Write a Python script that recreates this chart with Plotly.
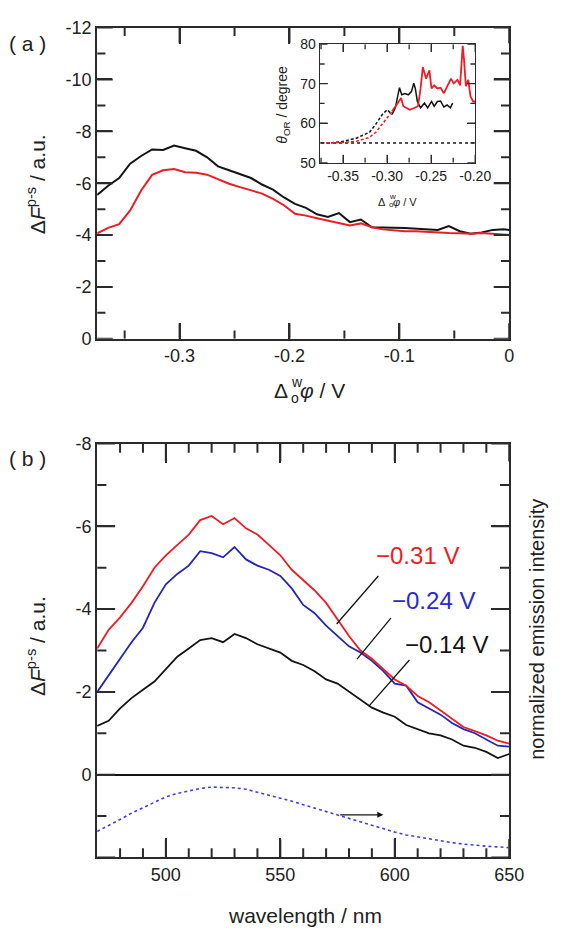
import plotly.graph_objects as go

# ---------------- data: panel (a) ----------------
pot_a = [-0.375, -0.365, -0.355, -0.345, -0.335, -0.325, -0.315, -0.305, -0.295, -0.285,
         -0.275, -0.265, -0.255, -0.245, -0.235, -0.225, -0.215, -0.205, -0.195, -0.185,
         -0.175, -0.165, -0.155, -0.145, -0.135, -0.125, -0.115, -0.105, -0.095, -0.085,
         -0.075, -0.065, -0.055, -0.045, -0.035, -0.025, -0.015, -0.005, 0.0]
dF_black_a = [-5.55, -5.9, -6.2, -6.75, -7.05, -7.3, -7.28, -7.45, -7.35, -7.25,
              -7.0, -6.65, -6.5, -6.35, -6.2, -5.95, -5.75, -5.45, -5.2, -5.05,
              -4.8, -4.7, -4.85, -4.5, -4.6, -4.3, -4.3, -4.28, -4.27, -4.25,
              -4.22, -4.2, -4.35, -4.15, -4.05, -4.1, -4.2, -4.22, -4.2]
dF_red_a = [-4.07, -4.28, -4.42, -4.95, -5.72, -6.32, -6.5, -6.55, -6.42, -6.4,
            -6.33, -6.15, -5.98, -5.85, -5.72, -5.6, -5.4, -5.15, -4.82, -4.75,
            -4.65, -4.55, -4.47, -4.37, -4.45, -4.3, -4.22, -4.18, -4.15, -4.15,
            -4.12, -4.1, -4.08, -4.07, -4.05, -4.08, -4.05, -4.02, -4.0]

# inset: orientation angle
ins_black_dash_x = [-0.375, -0.36, -0.35, -0.335, -0.32, -0.313, -0.3055, -0.300, -0.2944]
ins_black_dash_y = [55.0, 55.1, 55.4, 56.2, 57.7, 59.7, 62.2, 63.4, 62.2]
ins_black_x = [-0.2944, -0.2907, -0.2860, -0.2834, -0.2797, -0.2760, -0.2724, -0.2698, -0.2680,
               -0.2657, -0.2620, -0.2576, -0.2540, -0.2496, -0.2466, -0.2429, -0.2393,
               -0.2356, -0.2319, -0.2283, -0.2256]
ins_black_y = [62.2, 63.9, 69.0, 67.2, 67.5, 67.2, 68.0, 70.1, 68.8,
               65.5, 63.9, 65.1, 63.9, 65.5, 64.3, 65.5, 65.6,
               64.1, 64.6, 63.9, 65.1]
ins_red_dash_x = [-0.375, -0.35, -0.335, -0.3202, -0.3128, -0.3055, -0.300, -0.2944]
ins_red_dash_y = [55.0, 55.1, 55.4, 56.4, 57.7, 59.7, 61.4, 63.0]
ins_red_x = [-0.2944, -0.2907, -0.2870, -0.2841, -0.2816, -0.2779, -0.2742, -0.2687, -0.2650,
             -0.2620, -0.2595, -0.2558, -0.2521, -0.2496, -0.2466, -0.2429, -0.2393,
             -0.2356, -0.2319, -0.2275, -0.2245, -0.2201, -0.2172, -0.2142, -0.2128,
             -0.2106, -0.2079, -0.2054, -0.2024, -0.1995]
ins_red_y = [63.0, 64.3, 65.5, 66.4, 64.3, 63.9, 63.4, 63.9, 64.3,
             68.8, 74.2, 71.3, 73.4, 68.8, 69.6, 68.8, 69.0,
             67.6, 69.4, 71.3, 70.1, 71.0, 69.6, 79.6, 76.3,
             69.4, 71.0, 66.8, 65.5, 65.5]
ins_ref_x = [-0.375, -0.20]
ins_ref_y = [55.0, 55.0]

# ---------------- data: panel (b) ----------------
wl = [470, 475, 480, 485, 490, 495, 500, 505, 510, 515, 520, 525, 530, 535, 540, 545,
      550, 555, 560, 565, 570, 575, 580, 585, 590, 595, 600, 605, 610, 615, 620, 625,
      630, 635, 640, 645, 650]
dF_m031 = [-3.05, -3.5, -3.8, -4.15, -4.55, -5.0, -5.3, -5.55, -5.8, -6.15, -6.25, -6.05,
           -6.2, -5.95, -5.8, -5.55, -5.3, -4.95, -4.7, -4.45, -4.15, -3.75, -3.35, -3.0,
           -2.8, -2.55, -2.3, -2.15, -1.9, -1.75, -1.55, -1.35, -1.15, -1.05, -0.95, -0.82, -0.75]
dF_m024 = [-2.0, -2.4, -2.8, -3.2, -3.55, -4.15, -4.6, -4.85, -5.05, -5.4, -5.35, -5.25,
           -5.5, -5.2, -5.05, -4.95, -4.8, -4.5, -4.1, -3.9, -3.6, -3.35, -3.1, -2.95,
           -2.75, -2.5, -2.2, -2.15, -1.75, -1.6, -1.45, -1.25, -1.1, -1.0, -0.85, -0.7, -0.68]
dF_m014 = [-1.18, -1.3, -1.6, -1.85, -2.05, -2.25, -2.55, -2.85, -3.05, -3.25, -3.3, -3.2,
           -3.4, -3.3, -3.15, -3.05, -2.95, -2.75, -2.65, -2.5, -2.3, -2.2, -2.0, -1.8,
           -1.62, -1.5, -1.4, -1.2, -1.1, -1.0, -0.95, -0.85, -0.7, -0.65, -0.55, -0.4, -0.5]
emission = [0.37, 0.45, 0.54, 0.63, 0.71, 0.79, 0.86, 0.91, 0.95, 0.98, 1.0, 1.0, 0.99,
            0.97, 0.93, 0.89, 0.84, 0.8, 0.75, 0.7, 0.65, 0.61, 0.56, 0.5, 0.45, 0.4,
            0.36, 0.32, 0.29, 0.26, 0.23, 0.21, 0.19, 0.17, 0.16, 0.15, 0.14]

# tick labels / tick positions
a_xtick_vals = [-0.3, -0.2, -0.1, 0.0]
a_xtick_text = ["-0.3", "-0.2", "-0.1", "0"]
a_xminor_vals = [-0.35, -0.25, -0.15, -0.05]
a_ytick_vals = [-12, -10, -8, -6, -4, -2, 0]
a_ytick_text = ["-12", "-10", "-8", "-6", "-4", "-2", "0"]
a_yminor_vals = [-11, -9, -7, -5, -3, -1]
ins_xtick_vals = [-0.35, -0.30, -0.25, -0.20]
ins_xtick_text = ["-0.35", "-0.30", "-0.25", "-0.20"]
ins_xminor_vals = [-0.375, -0.325, -0.275, -0.225]
ins_ytick_vals = [50, 60, 70, 80]
ins_ytick_text = ["50", "60", "70", "80"]
ins_yminor_vals = [55, 65, 75]
b_xtick_vals = [500, 550, 600, 650]
b_xtick_text = ["500", "550", "600", "650"]
b_xminor_vals = [480, 490, 510, 520, 530, 540, 560, 570, 580, 590, 610, 620, 630, 640]
b_ytick_vals = [-8, -6, -4, -2, 0]
b_ytick_text = ["-8", "-6", "-4", "-2", "0"]
b_ymajor_marks = [-8, -6, -4, -2, 0, 2]
b_yminor_vals = [-7, -5, -3, -1, 1]

# ---------------- styling ----------------
W, H = 568, 934
FONT = "Liberation Sans, Arial, sans-serif"
RED = "#ee1c25"
BLUE = "#2525b5"
BLACK = "#141414"
AX = "#2b2b2b"


def px(x):
    return x / W


def py(y):
    return 1 - y / H


fig = go.Figure()

# panel (a)
fig.add_trace(go.Scatter(x=pot_a, y=dF_black_a, mode="lines", line=dict(color=BLACK, width=2),
                         xaxis="x", yaxis="y", showlegend=False))
fig.add_trace(go.Scatter(x=pot_a, y=dF_red_a, mode="lines", line=dict(color=RED, width=2),
                         xaxis="x", yaxis="y", showlegend=False))
# inset
fig.add_trace(go.Scatter(x=ins_ref_x, y=ins_ref_y, mode="lines", line=dict(color=BLACK, width=1.5, dash="dot"),
                         xaxis="x2", yaxis="y2", showlegend=False))
fig.add_trace(go.Scatter(x=ins_black_dash_x, y=ins_black_dash_y, mode="lines",
                         line=dict(color=BLACK, width=1.5, dash="3px,2px"),
                         xaxis="x2", yaxis="y2", showlegend=False))
fig.add_trace(go.Scatter(x=ins_red_dash_x, y=ins_red_dash_y, mode="lines",
                         line=dict(color=RED, width=1.5, dash="3px,2px"),
                         xaxis="x2", yaxis="y2", showlegend=False))
fig.add_trace(go.Scatter(x=ins_black_x, y=ins_black_y, mode="lines", line=dict(color=BLACK, width=1.5),
                         xaxis="x2", yaxis="y2", showlegend=False))
fig.add_trace(go.Scatter(x=ins_red_x, y=ins_red_y, mode="lines", line=dict(color=RED, width=1.8),
                         xaxis="x2", yaxis="y2", showlegend=False))
# panel (b)
fig.add_trace(go.Scatter(x=wl, y=dF_m014, mode="lines", line=dict(color=BLACK, width=1.8),
                         xaxis="x3", yaxis="y3", showlegend=False))
fig.add_trace(go.Scatter(x=wl, y=dF_m024, mode="lines", line=dict(color=BLUE, width=1.8),
                         xaxis="x3", yaxis="y3", showlegend=False))
fig.add_trace(go.Scatter(x=wl, y=dF_m031, mode="lines", line=dict(color=RED, width=1.8),
                         xaxis="x3", yaxis="y3", showlegend=False))
# emission spectrum on its own (hidden) right-hand scale
fig.add_trace(go.Scatter(x=wl, y=emission, mode="lines", line=dict(color="#4040d8", width=1.6, dash="dot"),
                         xaxis="x3", yaxis="y4", showlegend=False))


def axis(domain, rng, tv, tt, anchor, size=18, lw=2, ln=16):
    return dict(domain=domain, range=rng, anchor=anchor, tickmode="array", tickvals=tv, ticktext=tt,
                ticks="inside", ticklen=ln, tickwidth=lw, tickcolor=AX,
                showline=True, linecolor=AX, linewidth=lw, mirror="ticks",
                showgrid=False, zeroline=False,
                tickfont=dict(family=FONT, size=size, color="#222"))


# plot-area geometry in pixels (left, top, right, bottom)
A_BOX = (100, 18, 524, 336)
I_BOX = (329, 35, 489, 156)
B_BOX = (100, 443, 524, 866)
A_XR, A_YR = [-0.375, 0.0], [0, -12]
I_XR, I_YR = [-0.3765, -0.20], [50, 80]
B_XR, B_YR = [470, 650], [2, -8]


def xdom(b):
    return [px(b[0]), px(b[2])]


def ydom(b):
    return [py(b[3]), py(b[1])]


yb3 = axis(ydom(B_BOX), B_YR, b_ytick_vals, b_ytick_text, "x3", ln=18)
yb3.update(zeroline=True, zerolinecolor=BLACK, zerolinewidth=1.6)

fig.update_layout(
    width=W, height=H, margin=dict(l=0, r=0, t=0, b=0),
    paper_bgcolor="white", plot_bgcolor="rgba(0,0,0,0)",
    font=dict(family=FONT, color="#222"),
    xaxis=axis(xdom(A_BOX), A_XR, a_xtick_vals, a_xtick_text, "y"),
    yaxis=axis(ydom(A_BOX), A_YR, a_ytick_vals, a_ytick_text, "x", ln=15),
    xaxis2=axis(xdom(I_BOX), I_XR, ins_xtick_vals, ins_xtick_text, "y2", size=14, lw=1.3, ln=8),
    yaxis2=axis(ydom(I_BOX), I_YR, ins_ytick_vals, ins_ytick_text, "x2", size=14, lw=1.3, ln=8),
    xaxis3=axis(xdom(B_BOX), B_XR, b_xtick_vals, b_xtick_text, "y3", ln=19),
    yaxis3=yb3,
    yaxis4=dict(domain=ydom(B_BOX), range=[0, 10 / 1.7], anchor="x3", side="right",
                showticklabels=False, ticks="", showline=False, showgrid=False, zeroline=False),
)


# inward tick marks on all four sides, drawn as line traces in each axis' own data units
def tick_trace(xa, ya, box, rx, ry, xvals, yvals, ln, lw):
    xs, ys = [], []
    dy = (ry[1] - ry[0]) * ln / (box[3] - box[1])
    dx = (rx[1] - rx[0]) * ln / (box[2] - box[0])
    for v in xvals:
        xs += [v, v, None, v, v, None]
        ys += [ry[0], ry[0] + dy, None, ry[1], ry[1] - dy, None]
    for v in yvals:
        xs += [rx[0], rx[0] + dx, None, rx[1], rx[1] - dx, None]
        ys += [v, v, None, v, v, None]
    fig.add_trace(go.Scatter(x=xs, y=ys, mode="lines", line=dict(color=AX, width=lw),
                             xaxis=xa, yaxis=ya, showlegend=False, hoverinfo="skip",
                             connectgaps=False, cliponaxis=False))


tick_trace("x", "y", A_BOX, A_XR, A_YR, a_xtick_vals, a_ytick_vals, 16, 2)
tick_trace("x", "y", A_BOX, A_XR, A_YR, a_xminor_vals, a_yminor_vals, 8.5, 2)
tick_trace("x2", "y2", I_BOX, I_XR, I_YR, ins_xtick_vals, ins_ytick_vals, 8, 1.3)
tick_trace("x2", "y2", I_BOX, I_XR, I_YR, ins_xminor_vals, ins_yminor_vals, 5, 1.3)
tick_trace("x3", "y3", B_BOX, B_XR, B_YR, b_xtick_vals, b_ymajor_marks, 18.5, 2)
tick_trace("x3", "y3", B_BOX, B_XR, B_YR, b_xminor_vals, b_yminor_vals, 9.5, 2)

ann = []


def text(x, y, s, size, color="#222", angle=0, xanchor="center", yanchor="middle"):
    ann.append(dict(x=px(x), y=py(y), xref="paper", yref="paper", text=s, showarrow=False,
                    textangle=angle, xanchor=xanchor, yanchor=yanchor,
                    font=dict(family=FONT, size=size, color=color)))


text(28, 34, "( a )", 21)
text(28, 458, "( b )", 21)
text(37, 178, "Δ<i>F</i><sup>p-s</sup> / a.u.", 21, angle=-90)
text(37, 650, "Δ<i>F</i><sup>p-s</sup> / a.u.", 21, angle=-90)
text(314, 925, "wavelength / nm", 21)
text(553, 633, "normalized emission intensity", 20, angle=-90)
text(291, 97, "<i>θ</i><sub>OR</sub> / degree", 14, angle=-90)


def delta_phi(xa, yc, big, small, dsub, dsup, gap):
    text(xa, yc, "Δ", big, xanchor="right")
    text(xa - 0.5, yc + dsub, "o", small, xanchor="left")
    text(xa - 0.5, yc - dsup, "w", small, xanchor="left")
    text(xa + gap, yc, "<i>φ</i> / V", big, xanchor="left")


delta_phi(298, 389, 21, 14, 7, 9, 9)
delta_phi(399, 196, 11, 8, 3, 5, 3.5)

text(430, 557, "\u22120.31 V", 24, color=RED)
text(446, 603, "\u22120.24 V", 24, color="#2a2ad0")
text(459, 648, "\u22120.14 V", 24, color=BLACK)

# arrow pointing to right-hand axis (emission curve)
ann.append(dict(x=595, y=0.97, xref="x3", yref="y3", ax=575.5, ay=0.97, axref="x3", ayref="y3",
                showarrow=True, arrowhead=2, arrowsize=1, arrowwidth=1.2, arrowcolor=BLACK, text=""))
fig.update_layout(annotations=ann)

# leader lines for labels
for (x0, y0, x1, y1) in [(592.8, -4.8, 574.6, -3.64), (598.3, -3.78, 583.5, -2.79),
                         (606.4, -2.77, 588.6, -1.65)]:
    fig.add_shape(type="line", xref="x3", yref="y3", x0=x0, y0=y0, x1=x1, y1=y1,
                  line=dict(color=BLACK, width=1.3))

fig.write_html("out.html", config={"displayModeBar": False},
               post_script="document.body.style.margin='0';")
